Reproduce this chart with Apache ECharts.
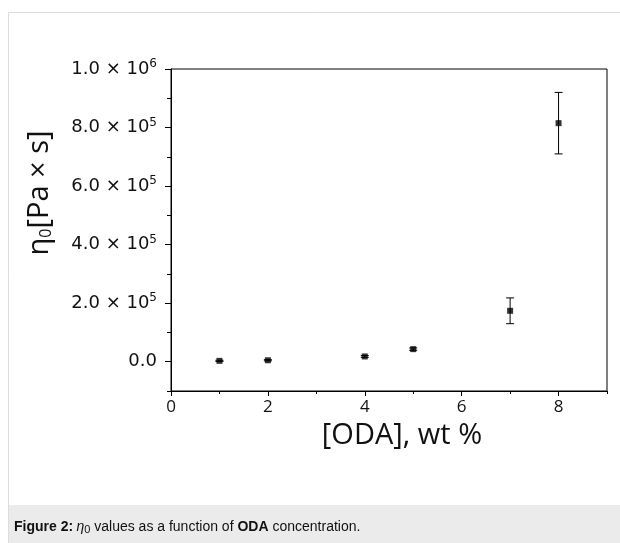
<!DOCTYPE html>
<html>
<head>
<meta charset="utf-8">
<script src="https://cdn.jsdelivr.net/npm/echarts@6/dist/echarts.min.js"></script>
<style>html,body{margin:0;padding:0;background:#fff;}#c{width:620px;height:543px;}</style>
</head>
<body>
<div id="c"></div>
<script>
// ---- data ----
var odaWt = [1, 2, 4, 5, 7, 8];
var eta0 = [3000, 5000, 18000, 43000, 174000, 815000];
var eta0Err = [2000, 2000, 3000, 4000, 44000, 105000];
var yMajorTicks = [0, 200000, 400000, 600000, 800000, 1000000];
var yMinorTicks = [-100000, 100000, 300000, 500000, 700000, 900000];
var xMajorTicks = [0, 2, 4, 6, 8];
var xMinorTicks = [1, 3, 5, 7, 9];

function yLabel(v) {
  if (v === 0) return '{m|0.0}';
  var e = Math.floor(Math.log10(v) + 1e-9);
  var mant = (v / Math.pow(10, e)).toFixed(1);
  return '{m|' + mant + ' × 10}{s|' + e + '}';
}

var chart = echarts.init(document.getElementById('c'), null, {renderer: 'canvas'});
var pts = odaWt.map(function (x, i) { return [x, eta0[i]]; });
var errs = odaWt.map(function (x, i) { return [x, eta0[i] - eta0Err[i], eta0[i] + eta0Err[i]]; });

chart.setOption({
  animation: false,
  backgroundColor: '#fff',
  grid: {left: 171, right: 13, top: 69, bottom: 152, show: true, borderColor: '#000', borderWidth: 1, containLabel: false},
  xAxis: [{
    type: 'value', min: 0, max: 9, interval: 1,
    axisLine: {onZero: false, lineStyle: {color: '#000', width: 1}},
    axisTick: {show: true, length: 5, lineStyle: {color: '#000'}, customValues: xMajorTicks},
    axisLabel: {customValues: xMajorTicks, fontFamily: 'Open Sans', fontSize: 17, color: '#111', margin: 8},
    splitLine: {show: false},
    name: '[ODA], wt %', nameLocation: 'middle', nameGap: 20,
    nameTextStyle: {fontFamily: 'Open Sans', fontSize: 29, color: '#111', padding: [0, 0, 0, 26]}
  }, {
    type: 'value', min: 0, max: 9, interval: 1, position: 'bottom',
    axisLine: {show: false, onZero: false},
    axisTick: {show: true, length: 3, lineStyle: {color: '#000'}, customValues: xMinorTicks},
    axisLabel: {show: false}, splitLine: {show: false}
  }],
  yAxis: [{
    type: 'value', min: -100000, max: 1000000, interval: 100000,
    axisLine: {show: true, onZero: false, lineStyle: {color: '#000', width: 1}},
    axisTick: {show: true, length: 6, lineStyle: {color: '#000'}, customValues: yMajorTicks},
    axisLabel: {
      customValues: yMajorTicks, margin: 14,
      formatter: yLabel,
      rich: {
        m: {fontFamily: 'DejaVu Sans', fontSize: 18, color: '#111', lineHeight: 22},
        s: {fontFamily: 'DejaVu Sans', fontSize: 12, color: '#111', verticalAlign: 'top', lineHeight: 12}
      }
    },
    splitLine: {show: false}
  }, {
    type: 'value', min: -100000, max: 1000000, interval: 100000, position: 'left',
    axisLine: {show: false, onZero: false},
    axisTick: {show: true, length: 4, lineStyle: {color: '#000'}, customValues: yMinorTicks},
    axisLabel: {show: false}, splitLine: {show: false}
  }],
  series: [{
    type: 'custom',
    xAxisIndex: 0, yAxisIndex: 0,
    data: errs,
    renderItem: function (params, api) {
      var x = api.value(0);
      var lo = api.coord([x, api.value(1)]);
      var hi = api.coord([x, api.value(2)]);
      var w = 4;
      var st = {stroke: '#000', lineWidth: 1};
      return {type: 'group', children: [
        {type: 'line', shape: {x1: hi[0], y1: hi[1], x2: lo[0], y2: lo[1]}, style: st},
        {type: 'line', shape: {x1: hi[0] - w, y1: hi[1], x2: hi[0] + w, y2: hi[1]}, style: st},
        {type: 'line', shape: {x1: lo[0] - w, y1: lo[1], x2: lo[0] + w, y2: lo[1]}, style: st}
      ]};
    },
    z: 2
  }, {
    type: 'scatter', xAxisIndex: 0, yAxisIndex: 0,
    data: pts, symbol: 'rect', symbolSize: 6,
    itemStyle: {color: '#000'}, z: 3
  }],
  graphic: [
    {type: 'rect', shape: {x: 8.5, y: 12.5, width: 620, height: 540}, style: {fill: 'none', stroke: '#dcdcdc', lineWidth: 1}, z: -10},
    {type: 'rect', shape: {x: 9, y: 505, width: 611, height: 38}, style: {fill: '#ebebeb'}, z: -9},
    {type: 'text', x: 14, y: 527, style: {
      text: '{b|Figure 2:} {i|η}{sub|0}{t| values as a function of }{b|ODA}{t| concentration.}',
      verticalAlign: 'middle',
      rich: {
        b: {fontFamily: 'Liberation Sans', fontWeight: 'bold', fontSize: 14, fill: '#111'},
        t: {fontFamily: 'Liberation Sans', fontSize: 14, fill: '#111'},
        i: {fontFamily: 'Liberation Sans', fontStyle: 'italic', fontSize: 14, fill: '#111'},
        sub: {fontFamily: 'Liberation Sans', fontSize: 11, fill: '#111', verticalAlign: 'bottom', padding: [6, 0, 0, 0]}
      }
    }},
    {type: 'text', x: 40, y: 193, rotation: Math.PI / 2, style: {
      text: '{n|η}{sub|0}{n|[Pa × s]}',
      align: 'center', verticalAlign: 'middle',
      rich: {
        n: {fontFamily: 'Open Sans', fontSize: 29, fill: '#111'},
        sub: {fontFamily: 'Open Sans', fontSize: 16, fill: '#111', verticalAlign: 'bottom', padding: [12, 0, 0, 0]}
      }
    }}
  ]
});
</script>
</body>
</html>
